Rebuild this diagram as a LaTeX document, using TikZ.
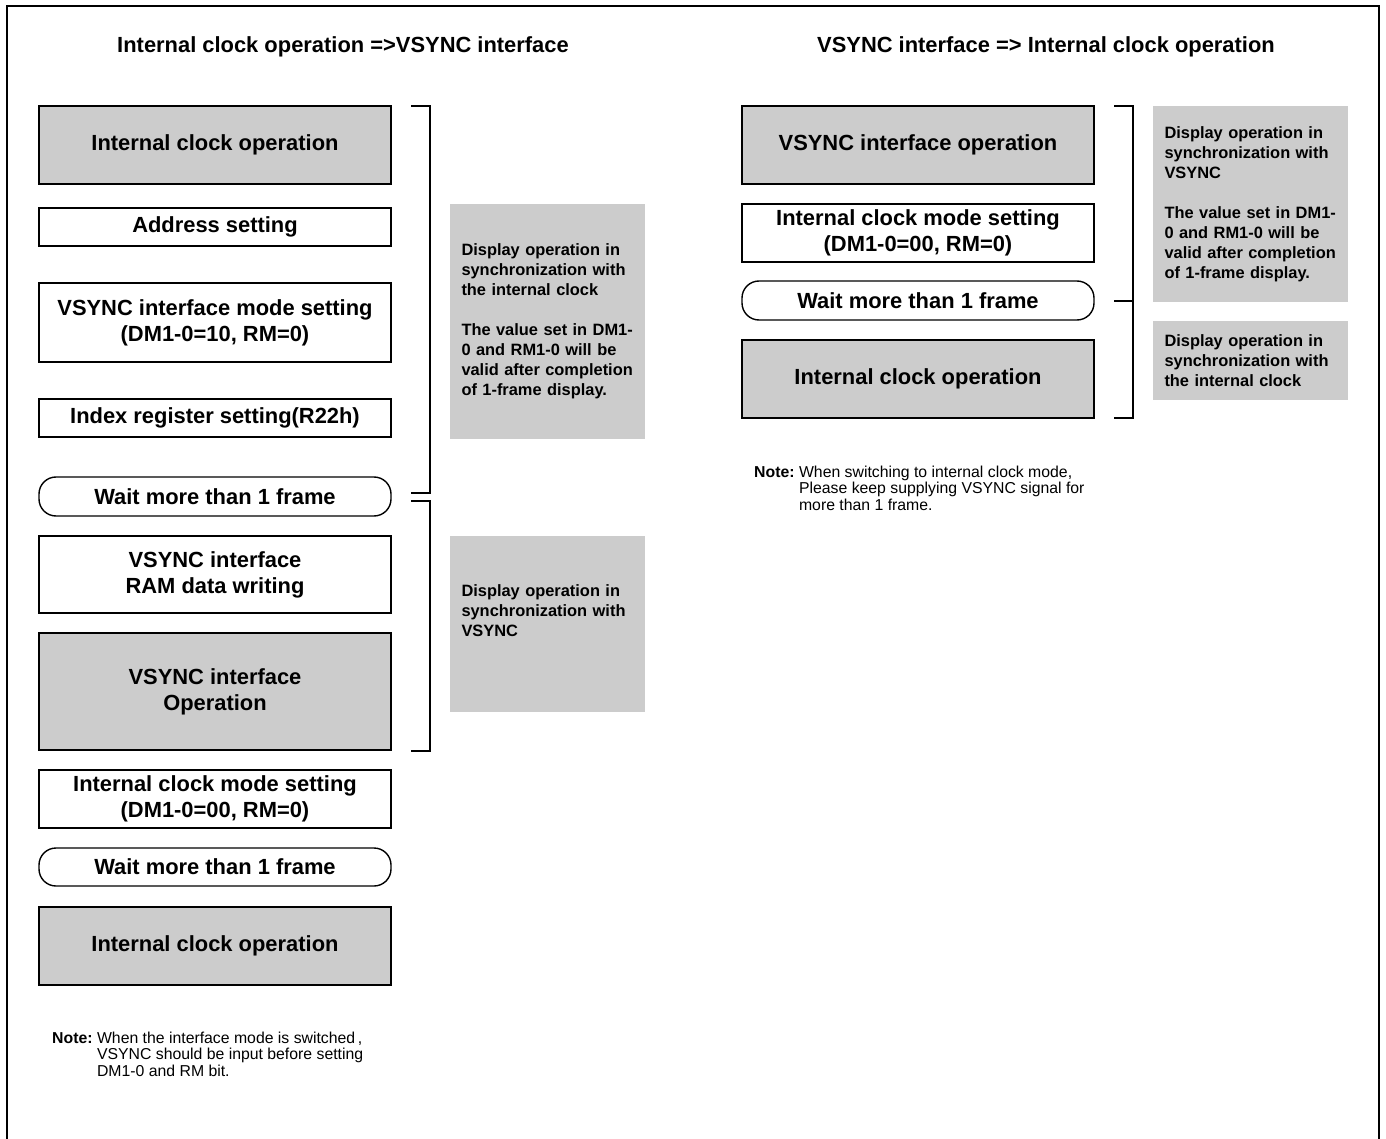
\documentclass[tikz,border=0pt]{standalone}
\usepackage{fontspec}
\setmainfont{Liberation Sans}
\definecolor{boxgray}{RGB}{204,204,204}
\begin{document}
\begin{tikzpicture}[x=1pt,y=-1pt,
  stepbox/.style={draw, line width=1.4pt, anchor=north west, outer sep=0pt,
    minimum width=352pt, align=center, inner sep=0pt,
    font=\fontsize{21.9}{26}\selectfont\bfseries},
  opbox/.style={stepbox, fill=boxgray},
  waitbox/.style={stepbox, rounded corners=17pt},
  notebox/.style={fill=boxgray, anchor=north west, outer sep=0pt,
    text width=172pt, inner xsep=11.5pt, inner ysep=0pt, align=left,
    font=\fontsize{16.4}{20}\selectfont\bfseries},
  titletext/.style={font=\fontsize{21.9}{26}\selectfont\bfseries},
  notetext/.style={anchor=north west, inner sep=0pt, align=left,
    font=\fontsize{15.8}{16.3}\selectfont},
  bracketline/.style={line width=1.4pt}
]
\useasboundingbox (0,0) rectangle (1386,1139);
% outer frame (bottom edge lies below the picture)
\draw[line width=2pt] (7,1150) -- (7,6) -- (1379,6) -- (1379,1150);

% titles
\node[titletext] (t1) at (343,47) {Internal clock operation =>VSYNC interface};
\node[titletext] (t2) at (1046,47) {VSYNC interface => Internal clock operation};

% left column
\node[opbox, minimum height=78pt] (L1) at (39,106) {Internal clock operation};
\node[stepbox, minimum height=38pt] (L2) at (39,208) {Address setting};
\node[stepbox, minimum height=79pt] (L3) at (39,283) {VSYNC interface mode setting\\(DM1-0=10, RM=0)};
\node[stepbox, minimum height=38pt] (L4) at (39,399) {Index register setting(R22h)};
\node[waitbox, minimum height=39pt] (L5) at (39,477) {Wait more than 1 frame};
\node[stepbox, minimum height=77pt] (L6) at (39,536) {VSYNC interface\\RAM data writing};
\node[opbox, minimum height=117pt] (L7) at (39,633) {VSYNC interface\\Operation};
\node[stepbox, minimum height=58pt] (L8) at (39,770) {Internal clock mode setting\\(DM1-0=00, RM=0)};
\node[waitbox, minimum height=38pt] (L9) at (39,848) {Wait more than 1 frame};
\node[opbox, minimum height=78pt] (L10) at (39,907) {Internal clock operation};

% left brackets
\draw[bracketline] (411,106) -- (430,106) -- (430,493) -- (411,493);
\draw[bracketline] (411,501) -- (430,501) -- (430,751) -- (411,751);

% left explanations
\node[notebox, minimum height=235pt] (N1) at (450,204) {Display operation in\\synchronization with\\the internal clock\\[20pt]The value set in DM1-\\0 and RM1-0 will be\\valid after completion\\of 1-frame display.};
\node[notebox, minimum height=176pt] (N2) at (450,536) {Display operation in\\synchronization with\\VSYNC\\\strut};

% left note
\node[notetext] (note1) at (52,1032) {\begin{tabular}{@{}l@{\hspace{4.5pt}}l@{}}\textbf{Note:} & When the interface mode is switched\,,\\ & VSYNC should be input before setting\\ & DM1-0 and RM bit.\end{tabular}};

% right column
\node[opbox, minimum height=78pt] (R1) at (742,106) {VSYNC interface operation};
\node[stepbox, minimum height=58pt] (R2) at (742,204) {Internal clock mode setting\\(DM1-0=00, RM=0)};
\node[waitbox, minimum height=39pt] (R3) at (742,281) {Wait more than 1 frame};
\node[opbox, minimum height=78pt] (R4) at (742,340) {Internal clock operation};

% right bracket
\draw[bracketline] (1114,106) -- (1133,106) -- (1133,418) -- (1114,418);
\draw[bracketline] (1114,301) -- (1133,301);

% right explanations
\node[notebox, minimum height=196pt] (N3) at (1153,106) {Display operation in\\synchronization with\\VSYNC\\[20pt]The value set in DM1-\\0 and RM1-0 will be\\valid after completion\\of 1-frame display.};
\node[notebox, minimum height=79pt] (N4) at (1153,321) {Display operation in\\synchronization with\\the internal clock};

% right note
\node[notetext] (note2) at (754,466) {\begin{tabular}{@{}l@{\hspace{4.5pt}}l@{}}\textbf{Note:} & When switching to internal clock mode,\\ & Please keep supplying VSYNC signal for\\ & more than 1 frame.\end{tabular}};
\end{tikzpicture}
\end{document}
